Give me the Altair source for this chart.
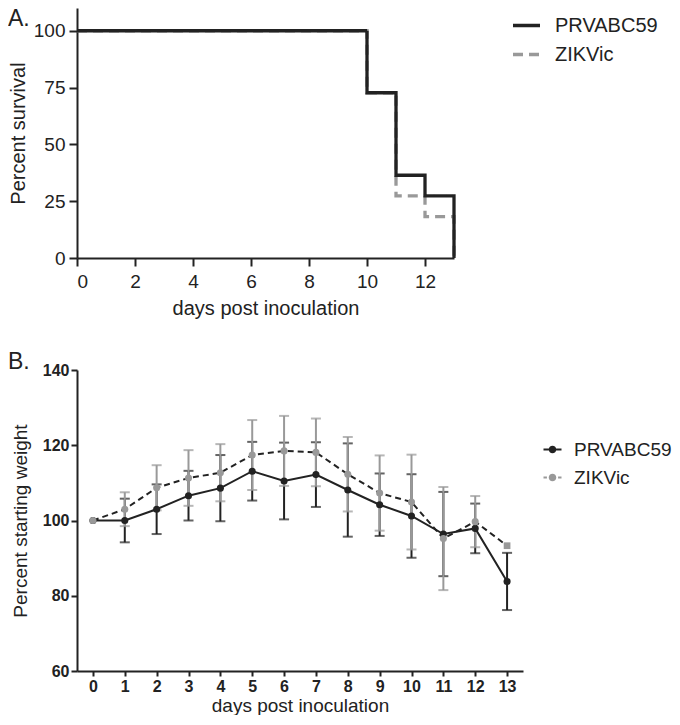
import altair as alt
import pandas as pd

FONT = "Liberation Sans"
INK = "#222222"
GREY = "#999999"
series = ["PRVABC59", "ZIKVic"]

# ---- Panel A: survival (step curves) ----
surv_days = [0, 10, 11, 12, 13]
surv_prv = [100, 72.7, 36.4, 27.3, 0]
surv_zik = [100, 72.7, 27.3, 18.2, 0]
a_xticks = [0, 2, 4, 6, 8, 10, 12]
a_yticks = [0, 25, 50, 75, 100]

# ---- Panel B: weight ----
days = list(range(14))
prv_mean = [100, 100, 103.0, 106.6, 108.6, 113.1, 110.5, 112.2, 108.1, 104.2, 101.2, 96.4, 97.9, 83.8]
prv_err = [0, 5.8, 6.6, 6.6, 8.8, 7.8, 10.2, 8.6, 12.4, 8.3, 11.1, 11.2, 6.6, 7.6]
zik_mean = [100, 103.0, 108.7, 111.3, 112.7, 117.4, 118.5, 118.1, 112.3, 107.3, 104.9, 95.2, 99.7, 93.3]
zik_err = [0, 4.5, 6.0, 7.4, 7.6, 9.3, 9.3, 9.0, 9.9, 10.0, 12.6, 13.7, 6.8, 0]
b_yticks = [60, 80, 100, 120, 140]

dfA = pd.DataFrame({
    "day": surv_days * 2,
    "series": [series[0]] * len(surv_days) + [series[1]] * len(surv_days),
    "pct": surv_prv + surv_zik,
})

rows = []
for s, means, errs in [(series[0], prv_mean, prv_err), (series[1], zik_mean, zik_err)]:
    for d, m, e in zip(days, means, errs):
        rows.append({"day": d, "series": s, "mean": m, "err": e, "lo": m - e, "hi": m + e})
dfB = pd.DataFrame(rows)

# ---------- Panel A ----------
xA = alt.X("day:Q", scale=alt.Scale(domain=[0, 13], nice=False, zero=False),
           axis=alt.Axis(values=a_xticks, title="days post inoculation", labelFontSize=19,
                         titleFontSize=20, tickSize=8, labelPadding=6, titlePadding=7))
yA = alt.Y("pct:Q", scale=alt.Scale(domain=[0, 110], nice=False),
           axis=alt.Axis(values=a_yticks, title="Percent survival", labelFontSize=19,
                         titleFontSize=20, tickSize=8, labelPadding=4, titlePadding=5))

legA = alt.Legend(title=None, orient="none", legendX=434, legendY=2, labelFont=FONT,
                  labelFontSize=20, labelColor=INK, symbolType="stroke", symbolSize=729,
                  symbolStrokeWidth=3.3, labelOffset=13, rowPadding=3, padding=0)

colA = alt.Color("series:N", scale=alt.Scale(domain=series, range=[INK, GREY]), legend=legA)
dashA = alt.StrokeDash("series:N", scale=alt.Scale(domain=series, range=[[1, 0], [10, 6]]), legend=legA)

lineA_z = alt.Chart(dfA).transform_filter(alt.datum.series == series[1]).mark_line(
    interpolate="step-after", strokeWidth=3.3).encode(x=xA, y=yA, color=colA, strokeDash=dashA)
lineA_p = alt.Chart(dfA).transform_filter(alt.datum.series == series[0]).mark_line(
    interpolate="step-after", strokeWidth=3.3).encode(x=xA, y=yA, color=colA, strokeDash=dashA)

labelA = alt.Chart(pd.DataFrame({"lab": ["A."]})).mark_text(
    align="left", baseline="top", fontSize=23, font=FONT, color=INK
).encode(x=alt.value(-69), y=alt.value(0), text="lab:N")

chartA = alt.layer(lineA_z, lineA_p, labelA).properties(width=377, height=250)

# ---------- Panel B ----------
def xB():
    return alt.X("day:Q", scale=alt.Scale(domain=[-0.5, 13.5], nice=False, zero=False),
                 axis=alt.Axis(values=days, title="days post inoculation", labelFontSize=16,
                               labelFontWeight="bold", titleFontSize=19, tickSize=5,
                               labelPadding=2, titlePadding=2))

def yB(field):
    return alt.Y(field, scale=alt.Scale(domain=[60, 140], nice=False, zero=False),
                 axis=alt.Axis(values=b_yticks, title="Percent starting weight", labelFontSize=16,
                               labelFontWeight="bold", titleFontSize=19, tickSize=6,
                               labelPadding=2, titlePadding=12))

baseB = alt.Chart(dfB)

def errbars(s, col):
    f = baseB.transform_filter(alt.datum.series == s).transform_filter(alt.datum.err > 0)
    rule = f.mark_rule(color=col, strokeWidth=2).encode(x=xB(), y=yB("lo:Q"), y2="hi:Q")
    lo = f.mark_tick(orient="horizontal", size=10, thickness=2, color=col).encode(x=xB(), y=yB("lo:Q"))
    hi = f.mark_tick(orient="horizontal", size=10, thickness=2, color=col).encode(x=xB(), y=yB("hi:Q"))
    return [rule, lo, hi]

lineP = baseB.transform_filter(alt.datum.series == series[0]).mark_line(
    color=INK, strokeWidth=2).encode(x=xB(), y=yB("mean:Q"))
lineZ = baseB.transform_filter(alt.datum.series == series[1]).mark_line(
    color=INK, strokeWidth=2, strokeDash=[6, 4]).encode(x=xB(), y=yB("mean:Q"))

ptsP = baseB.transform_filter(alt.datum.series == series[0]).mark_circle(
    size=50, color=INK, opacity=1).encode(x=xB(), y=yB("mean:Q"))
ptsZ = baseB.transform_filter(alt.datum.series == series[1]).transform_filter(
    alt.datum.err > 0).mark_circle(size=50, color=GREY, opacity=1).encode(x=xB(), y=yB("mean:Q"))
ptsZ0 = baseB.transform_filter(alt.datum.series == series[1]).transform_filter(
    alt.datum.day == 0).mark_circle(size=50, color=GREY, opacity=1).encode(x=xB(), y=yB("mean:Q"))
ptsZ13 = baseB.transform_filter(alt.datum.series == series[1]).transform_filter(
    alt.datum.day == 13).mark_square(size=45, color=GREY, opacity=1).encode(x=xB(), y=yB("mean:Q"))

p_solid = ("M-1,-0.11L1,-0.11L1,0.11L-1,0.11Z"
           "M0.42,0A0.42,0.42,0,1,1,-0.42,0A0.42,0.42,0,1,1,0.42,0Z")
p_dash = ("M-1,-0.11L-0.62,-0.11L-0.62,0.11L-1,0.11Z"
          "M0.62,-0.11L1,-0.11L1,0.11L0.62,0.11Z"
          "M0.42,0A0.42,0.42,0,1,1,-0.42,0A0.42,0.42,0,1,1,0.42,0Z")

legB = alt.Legend(title=None, orient="none", legendX=466, legendY=70, labelFont=FONT,
                  labelFontSize=19, labelColor=INK, symbolSize=324, labelOffset=12,
                  rowPadding=8, padding=0, symbolStrokeWidth=0)
legendLayer = baseB.transform_filter("false").mark_point(filled=True, size=324, opacity=1).encode(
    color=alt.Color("series:N", scale=alt.Scale(domain=series, range=[INK, GREY]), legend=legB),
    shape=alt.Shape("series:N", scale=alt.Scale(domain=series, range=[p_solid, p_dash]), legend=legB),
)

labelB = alt.Chart(pd.DataFrame({"lab": ["B."]})).mark_text(
    align="left", baseline="alphabetic", fontSize=23, font=FONT, color=INK
).encode(x=alt.value(-69), y=alt.value(-1), text="lab:N")

chartB = alt.layer(
    *errbars(series[0], INK), *errbars(series[1], GREY),
    lineP, lineZ, ptsP, ptsZ, ptsZ0, ptsZ13, legendLayer, labelB
).properties(width=446, height=301)

chart = alt.concat(chartA, chartB, columns=1, spacing=33, align="none").resolve_scale(
    color="independent", strokeDash="independent", shape="independent",
    x="independent", y="independent"
).resolve_legend(
    color="independent", strokeDash="independent", shape="independent"
).properties(padding=0).configure_view(stroke=None).configure_axis(
    domainColor=INK, domainWidth=2, tickColor=INK, tickWidth=2, labelColor=INK,
    titleColor=INK, grid=False, labelFont=FONT, titleFont=FONT, titleFontWeight="normal"
)

chart.save("out.html", embed_options={"renderer": "svg", "actions": False})
